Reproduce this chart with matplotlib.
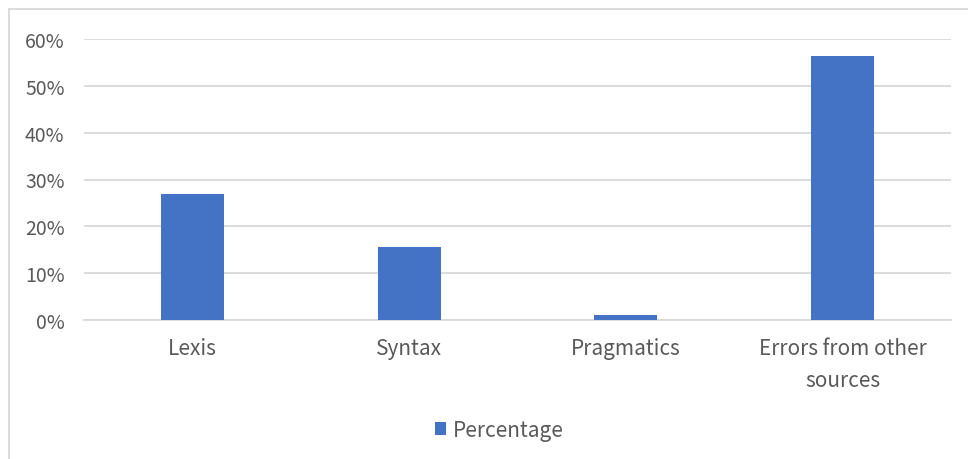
import matplotlib
matplotlib.use("Agg")
from matplotlib import pyplot as plt
from matplotlib.lines import Line2D
from matplotlib.ticker import PercentFormatter
import numpy as np

categories = ["Lexis", "Syntax", "Pragmatics", "Errors from other\nsources"]
percentage = [0.268, 0.155, 0.010, 0.563]
y_ticks = [0, 0.1, 0.2, 0.3, 0.4, 0.5, 0.6]

plt.rcParams['font.family'] = ['Noto Sans CJK SC', 'DejaVu Sans']

W, H = 968, 460
fig = plt.figure(figsize=(W / 100, H / 100), dpi=100)
ax = fig.add_axes([84 / W, (H - 321) / H, (951 - 84) / W, (321 - 40) / H])

x = np.arange(len(categories))
ax.bar(x, percentage, width=0.29, color="#4472c4", label="Percentage", zorder=3)

ax.set_xlim(-0.5, len(categories) - 0.5)
ax.set_ylim(0, 0.6)
ax.set_yticks(y_ticks)
ax.yaxis.set_major_formatter(PercentFormatter(1.0, decimals=0))
ax.set_xticks(x)
ax.set_xticklabels(categories, linespacing=1.62)

ax.grid(axis="y", color="#d9d9d9", linewidth=1.3, zorder=0)
for s in ["top", "right", "left"]:
    ax.spines[s].set_visible(False)
ax.spines["bottom"].set_color("#d9d9d9")
ax.spines["bottom"].set_linewidth(1.3)
ax.tick_params(axis="both", length=0, colors="#595959")
ax.tick_params(axis="y", pad=14, labelsize=14)
ax.tick_params(axis="x", pad=12, labelsize=15)

# chart frame
fig.add_artist(Line2D([9 / W, 1], [1 - 10 / H, 1 - 10 / H], color="#d9d9d9", lw=1.3))
fig.add_artist(Line2D([9 / W, 9 / W], [0, 1 - 10 / H], color="#d9d9d9", lw=1.3))

fig.legend(loc="center", bbox_to_anchor=(499 / W, 1 - 431 / H), frameon=False,
           fontsize=15, labelcolor="#595959", handlelength=0.55, handleheight=0.55,
           handletextpad=0.3)

fig.savefig("out.png", dpi=100, facecolor="white")
